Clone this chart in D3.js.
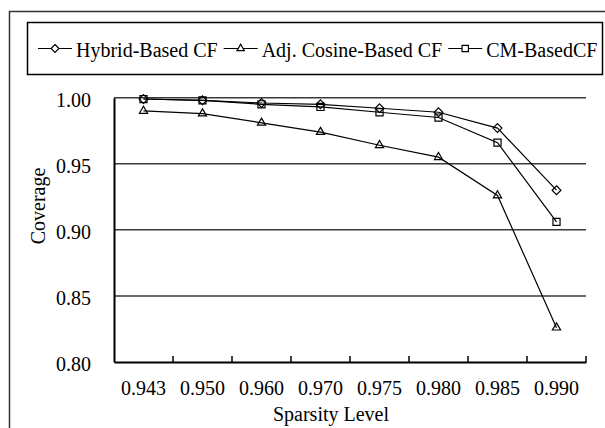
<!DOCTYPE html>
<html>
<head>
<meta charset="utf-8">
<script src="https://cdn.jsdelivr.net/npm/d3@7/dist/d3.min.js"></script>
<style>
  html, body { margin: 0; padding: 0; background: #fff; }
  svg { display: block; }
  text { font-family: "Liberation Serif", "Times New Roman", serif; fill: #000; }
</style>
</head>
<body>
<svg id="chart" width="605" height="428"></svg>
<script>
// ---- data ----
const categories = ["0.943", "0.950", "0.960", "0.970", "0.975", "0.980", "0.985", "0.990"];
const hybridCF = [0.999, 0.998, 0.996, 0.995, 0.992, 0.989, 0.977, 0.930];
const adjCosineCF = [0.990, 0.988, 0.981, 0.974, 0.964, 0.955, 0.926, 0.826];
const cmBasedCF = [0.999, 0.998, 0.995, 0.993, 0.989, 0.985, 0.966, 0.906];
const seriesNames = ["Hybrid-Based CF", "Adj. Cosine-Based CF", "CM-BasedCF"];
const yTicks = [0.80, 0.85, 0.90, 0.95, 1.00];
const xTitle = "Sparsity Level";
const yTitle = "Coverage";

const series = [
  { name: seriesNames[0], values: hybridCF, symbol: d3.symbolDiamond2, size: 50 },
  { name: seriesNames[1], values: adjCosineCF, symbol: d3.symbolTriangle2, size: 48 },
  { name: seriesNames[2], values: cmBasedCF, symbol: d3.symbolSquare2, size: 64 }
];

const svg = d3.select("#chart");

// outer chart border (extends past the right/bottom edge)
svg.append("rect")
  .attr("x", 9.5).attr("y", 11.5)
  .attr("width", 620).attr("height", 440)
  .attr("fill", "none").attr("stroke", "#333").attr("stroke-width", 1.5);

const plot = { left: 114, right: 586, top: 97.7, bottom: 362 };

const x = d3.scaleBand().domain(categories).range([plot.left, plot.right]).paddingInner(0).paddingOuter(0);
const y = d3.scaleLinear().domain([0.80, 1.00]).range([plot.bottom, plot.top]);
const cx = c => x(c) + x.bandwidth() / 2;

// gridlines
svg.append("g").selectAll("line")
  .data(yTicks.filter(t => t > 0.80))
  .join("line")
  .attr("x1", plot.left).attr("x2", plot.right)
  .attr("y1", d => y(d)).attr("y2", d => y(d))
  .attr("stroke", "#3a3a3a").attr("stroke-width", 1.5);

// y axis
const yAxis = svg.append("g")
  .attr("transform", `translate(${plot.left},0)`)
  .call(d3.axisLeft(y).tickValues(yTicks).tickFormat(d3.format(".2f")).tickSize(0).tickPadding(23));
yAxis.select(".domain").attr("stroke", "#000").attr("stroke-width", 2);
yAxis.selectAll("text").attr("font-size", 20).attr("dy", "0.42em")
  .style("font-family", '"Liberation Serif", serif');

// x axis
const xAxis = svg.append("g")
  .attr("transform", `translate(0,${plot.bottom})`)
  .call(d3.axisBottom(x).tickSize(0).tickPadding(19));
xAxis.select(".domain").attr("stroke", "#000").attr("stroke-width", 2);
xAxis.selectAll("text").attr("font-size", 20)
  .style("font-family", '"Liberation Serif", serif');

// inside tick marks at category boundaries
svg.append("g").selectAll("line")
  .data(categories)
  .join("line")
  .attr("x1", d => x(d) + x.bandwidth()).attr("x2", d => x(d) + x.bandwidth())
  .attr("y1", plot.bottom).attr("y2", plot.bottom - 6)
  .attr("stroke", "#000").attr("stroke-width", 1.5);

// axis titles
svg.append("text")
  .attr("x", 331).attr("y", 421)
  .attr("text-anchor", "middle").attr("font-size", 20)
  .text(xTitle);
svg.append("text")
  .attr("transform", "translate(45,206) rotate(-90)")
  .attr("text-anchor", "middle").attr("font-size", 20)
  .text(yTitle);

// lines + markers
const line = d3.line().x((d, i) => cx(categories[i])).y(d => y(d));
series.forEach(s => {
  svg.append("path")
    .datum(s.values)
    .attr("d", line)
    .attr("fill", "none").attr("stroke", "#000").attr("stroke-width", 1.2);
});
series.forEach(s => {
  svg.append("g").selectAll("path")
    .data(s.values)
    .join("path")
    .attr("transform", (d, i) => `translate(${cx(categories[i])},${y(d)})`)
    .attr("d", d3.symbol().type(s.symbol).size(s.size))
    .attr("fill", "none").attr("stroke", "#000").attr("stroke-width", 1.2);
});

// legend
const legendBox = { x: 27, y: 22, w: 575, h: 52 };
svg.append("clipPath").attr("id", "legclip")
  .append("rect").attr("x", legendBox.x).attr("y", legendBox.y)
  .attr("width", legendBox.w).attr("height", legendBox.h);
const leg = svg.append("g").attr("clip-path", "url(#legclip)");
let lx = 38;
const ly = 48.5;
series.forEach(s => {
  leg.append("line")
    .attr("x1", lx).attr("x2", lx + 34).attr("y1", ly).attr("y2", ly)
    .attr("stroke", "#000").attr("stroke-width", 1.2);
  leg.append("path")
    .attr("transform", `translate(${lx + 17},${ly})`)
    .attr("d", d3.symbol().type(s.symbol).size(s.size * 0.8))
    .attr("fill", "#fff").attr("stroke", "#000").attr("stroke-width", 1.2);
  const t = leg.append("text")
    .attr("x", lx + 38).attr("y", 56.5)
    .attr("font-size", 20)
    .text(s.name);
  lx = lx + 38 + t.node().getComputedTextLength() + 6;
});
svg.append("rect")
  .attr("x", legendBox.x + 0.5).attr("y", legendBox.y + 0.5)
  .attr("width", legendBox.w).attr("height", legendBox.h)
  .attr("fill", "none").attr("stroke", "#000").attr("stroke-width", 1.5);
</script>
</body>
</html>
